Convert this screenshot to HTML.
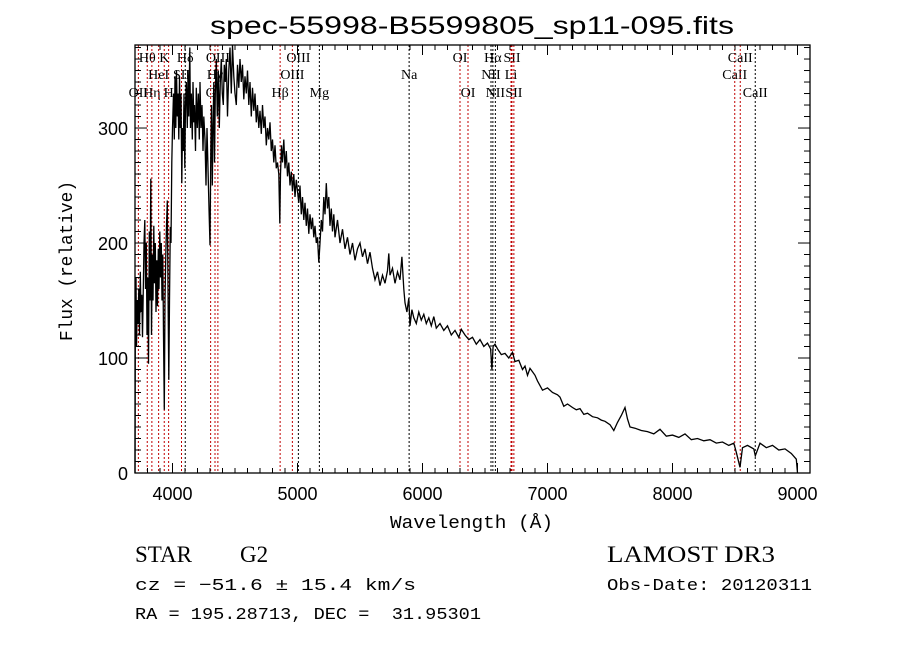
<!DOCTYPE html>
<html><head><meta charset="utf-8"><style>
body{margin:0;background:#fff;}
svg{display:block;}
text{font-family:"Liberation Sans",sans-serif;fill:#000;}
.mono{font-family:"Liberation Mono",monospace;}
.ser{font-family:"Liberation Serif",serif;font-size:14px;}
.big{font-family:"Liberation Serif",serif;font-size:23px;}
</style></head><body>
<svg id="chart" width="900" height="649" viewBox="0 0 900 649" xmlns="http://www.w3.org/2000/svg">
<rect width="900" height="649" fill="#fff"/>
<text x="210" y="34" font-size="25" textLength="524" lengthAdjust="spacingAndGlyphs">spec-55998-B5599805_sp11-095.fits</text>
<text x="390" y="528" font-size="18" class="mono" textLength="163" lengthAdjust="spacingAndGlyphs">Wavelength (Å)</text>
<text x="0" y="0" transform="translate(72,341) rotate(-90)" font-size="18" class="mono" textLength="160" lengthAdjust="spacingAndGlyphs">Flux (relative)</text>
<text x="135" y="562" class="big">STAR</text>
<text x="240" y="562" class="big">G2</text>
<text x="607" y="562" class="big" textLength="168" lengthAdjust="spacingAndGlyphs">LAMOST DR3</text>
<text x="135" y="590" font-size="17" class="mono" textLength="281" lengthAdjust="spacingAndGlyphs">cz = −51.6 ± 15.4 km/s</text>
<text x="607" y="590" font-size="17" class="mono" textLength="205" lengthAdjust="spacingAndGlyphs">Obs-Date: 20120311</text>
<text x="135" y="619" font-size="17" class="mono" xml:space="preserve" textLength="346" lengthAdjust="spacingAndGlyphs">RA = 195.28713, DEC =  31.95301</text>
<g id="lines"></g>
<g id="spec"></g>
<g id="axes"></g>
</svg>
<script>
const waves=[3700,3702,3708,3712,3718,3724,3730,3736,3742,3748,3754,3760,3766,3772,3778,3784,3790,3796,3802,3808,3814,3820,3826,3832,3838,3844,3850,3856,3862,3868,3874,3880,3886,3892,3898,3904,3910,3916,3922,3928,3934,3940,3946,3952,3958,3964,3970,3976,3982,3988,3994,4000,4008,4014,4020,4026,4032,4038,4044,4050,4056,4062,4068,4074,4080,4086,4092,4098,4104,4110,4118,4124,4130,4138,4144,4150,4158,4164,4170,4176,4184,4190,4198,4206,4214,4220,4228,4236,4244,4250,4260,4268,4276,4284,4292,4300,4306,4312,4318,4324,4330,4336,4342,4350,4358,4366,4374,4382,4390,4398,4406,4414,4422,4430,4440,4450,4460,4470,4480,4490,4500,4510,4520,4530,4540,4550,4560,4570,4580,4590,4600,4610,4620,4630,4640,4650,4660,4670,4680,4690,4700,4710,4720,4730,4740,4750,4760,4770,4780,4790,4800,4810,4820,4830,4840,4850,4858,4864,4872,4880,4890,4900,4910,4920,4930,4940,4950,4960,4970,4980,4990,5000,5010,5020,5030,5040,5050,5060,5070,5080,5090,5100,5110,5120,5130,5140,5150,5160,5170,5180,5190,5200,5210,5220,5230,5240,5250,5260,5270,5280,5290,5300,5320,5340,5360,5380,5400,5420,5440,5460,5480,5500,5520,5540,5560,5580,5600,5620,5640,5660,5680,5700,5720,5730,5740,5760,5780,5800,5820,5835,5850,5860,5875,5890,5900,5915,5930,5950,5970,5990,6010,6030,6050,6070,6090,6110,6140,6170,6200,6230,6260,6290,6310,6340,6370,6400,6430,6460,6490,6520,6545,6555,6565,6580,6600,6630,6660,6690,6720,6740,6770,6800,6820,6840,6860,6880,6900,6920,6960,7000,7040,7080,7100,7130,7160,7200,7230,7260,7290,7320,7360,7400,7430,7460,7500,7530,7560,7590,7620,7640,7660,7700,7750,7800,7850,7900,7950,8000,8050,8100,8150,8200,8250,8300,8350,8400,8450,8490,8510,8540,8560,8600,8650,8662,8700,8750,8800,8850,8900,8950,8990,9000];
const fluxes=[0,120,170,110,150,130,160,120,175,140,155,118,160,200,220,160,200,120,170,95,210,150,256,120,190,150,215,165,200,140,185,145,195,160,210,170,200,150,190,120,55,150,190,215,237,160,81,150,214,200,270,300,330,290,345,300,350,310,330,290,345,300,330,252,300,280,330,265,320,340,300,350,310,370,300,330,290,340,305,320,280,335,300,330,290,340,300,320,280,310,290,250,300,265,230,198,280,320,250,300,340,270,330,360,310,350,300,340,360,330,320,355,340,360,310,350,370,330,376,345,330,320,355,335,360,340,355,325,345,330,350,320,340,310,335,315,330,305,320,300,315,295,320,300,310,285,300,290,305,280,290,270,285,265,270,260,217,260,285,270,290,265,280,258,270,250,262,245,260,240,255,245,235,250,225,240,220,235,215,230,208,225,212,222,205,215,200,205,183,200,220,210,240,225,252,230,240,215,230,210,225,205,220,200,212,195,205,190,200,185,195,200,188,195,182,192,178,168,175,163,172,165,176,191,172,178,165,175,168,188,160,148,140,152,128,142,135,130,140,133,138,130,135,128,136,126,130,124,128,120,124,118,125,120,116,118,112,116,110,113,108,90,110,112,108,103,104,100,105,97,98,90,93,85,91,88,85,80,72,74,70,68,66,58,60,57,55,56,51,52,49,48,46,45,42,37,44,50,57,47,40,39,37,36,34,38,32,33,31,34,29,30,28,29,26,27,24,26,18,5,22,24,21,15,26,22,24,20,21,17,12,0];
const lineWaves=[3727,3798,3835,3889,3934,3969,4072,4102,4305,4340,4363,4861,4959,5007,5175,5893,6300,6364,6548,6563,6583,6708,6716,6731,8498,8542,8662];
const lineNames=["OII","Hθ","Hη","HeI","K","H","SII","Hδ","G","Hγ","OIII","Hβ","OIII","OIII","Mg","Na","OI","OI","NII","Hα","NII","Li","SII","SII","CaII","CaII","CaII"];
const lineRows=[2,0,2,1,0,2,1,0,2,1,0,2,1,0,2,1,0,2,1,0,2,1,0,2,1,0,2];
const lineBlack=[0,0,0,0,0,0,0,1,0,0,0,0,0,1,1,1,0,0,1,1,1,0,0,0,0,0,1];
const xTicks=[4000,5000,6000,7000,8000,9000];
const yTicks=[0,100,200,300];
const X0=135,X1=810,Y0=45,Y1=473,WMIN=3700,WMAX=9100,FMIN=0,FMAX=372.2;
function xs(w){return X0+(w-WMIN)/(WMAX-WMIN)*(X1-X0);}
function ys(f){return Y1-(f-FMIN)/(FMAX-FMIN)*(Y1-Y0);}
const NS="http://www.w3.org/2000/svg";
function mk(tag,attrs,parent){const e=document.createElementNS(NS,tag);for(const k in attrs)e.setAttribute(k,attrs[k]);parent.appendChild(e);return e;}
const gl=document.getElementById('lines');
const rowY=[62,79,97];
lineWaves.forEach((w,i)=>{
  const x=xs(w);
  const l=mk('line',{x1:x,y1:Y0,x2:x,y2:Y1,stroke:lineBlack[i]?'#000':'#c00000','stroke-width':1,'stroke-dasharray':'2,2'},gl);
  
  
  const t=mk('text',{x:x,y:rowY[lineRows[i]],'text-anchor':'middle','class':'ser'},gl);
  t.textContent=lineNames[i];
  
  
});
const gs=document.getElementById('spec');
let d='';
waves.forEach((w,i)=>{d+=(i?'L':'M')+xs(w).toFixed(1)+','+ys(Math.min(fluxes[i],FMAX)).toFixed(1);});
const p=mk('path',{d:d,fill:'none',stroke:'#000','stroke-width':1.3,'stroke-linejoin':'miter'},gs);


const ga=document.getElementById('axes');
const box=mk('rect',{x:X0,y:Y0,width:X1-X0,height:Y1-Y0,fill:'none',stroke:'#000','stroke-width':1.3},ga);


for(let w=3700;w<=9100;w+=100){
  const x=xs(w);const major=w%1000===0;const L=major?10:5;
  mk('line',{x1:x,y1:Y1,x2:x,y2:Y1-L,stroke:'#000'},ga);
  mk('line',{x1:x,y1:Y0,x2:x,y2:Y0+L,stroke:'#000'},ga);
}
for(let f=0;f<=370;f+=10){
  const y=ys(f);const major=f%100===0;const L=major?12:6;
  mk('line',{x1:X0,y1:y,x2:X0+L,y2:y,stroke:'#000'},ga);
  mk('line',{x1:X1,y1:y,x2:X1-L,y2:y,stroke:'#000'},ga);
}
xTicks.forEach(w=>{
  const t=mk('text',{x:xs(w),y:500,'text-anchor':'middle','font-size':18},ga);
  t.textContent=w;
  
  
});
yTicks.forEach(f=>{
  const t=mk('text',{x:128,y:ys(f)+7,'text-anchor':'end','font-size':18},ga);
  t.textContent=f;
  
  
});
</script>
</body></html>
